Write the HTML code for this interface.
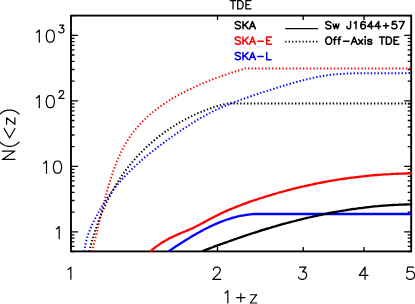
<!DOCTYPE html>
<html><head><meta charset="utf-8"><title>TDE</title>
<style>html,body{margin:0;padding:0;background:#fff;overflow:hidden}body{width:415px;height:304px;position:relative;font-family:"Liberation Sans",sans-serif}</style></head>
<body>
<svg width="415" height="304" viewBox="0 0 415 304" style="position:absolute;left:0;top:0;display:block">
<rect width="415" height="304" fill="#fff"/>
<defs><clipPath id="c"><rect x="71.0" y="15.6" width="341.2" height="236.8"/></clipPath></defs>
<rect x="71.0" y="15.6" width="340.2" height="235.8" fill="none" stroke="#000" stroke-width="1.85"/>
<path d="M71.0,251.5h3.5 M411.2,251.5h-3.5 M71.0,246.3h3.5 M411.2,246.3h-3.5 M71.0,241.9h3.5 M411.2,241.9h-3.5 M71.0,238.1h3.5 M411.2,238.1h-3.5 M71.0,234.8h3.5 M411.2,234.8h-3.5 M71.0,231.8h7.0 M411.2,231.8h-7.0 M71.0,212.1h3.5 M411.2,212.1h-3.5 M71.0,200.5h3.5 M411.2,200.5h-3.5 M71.0,192.4h3.5 M411.2,192.4h-3.5 M71.0,186.0h3.5 M411.2,186.0h-3.5 M71.0,180.8h3.5 M411.2,180.8h-3.5 M71.0,176.4h3.5 M411.2,176.4h-3.5 M71.0,172.6h3.5 M411.2,172.6h-3.5 M71.0,169.3h3.5 M411.2,169.3h-3.5 M71.0,166.3h7.0 M411.2,166.3h-7.0 M71.0,146.6h3.5 M411.2,146.6h-3.5 M71.0,135.0h3.5 M411.2,135.0h-3.5 M71.0,126.9h3.5 M411.2,126.9h-3.5 M71.0,120.5h3.5 M411.2,120.5h-3.5 M71.0,115.3h3.5 M411.2,115.3h-3.5 M71.0,110.9h3.5 M411.2,110.9h-3.5 M71.0,107.1h3.5 M411.2,107.1h-3.5 M71.0,103.8h3.5 M411.2,103.8h-3.5 M71.0,100.8h7.0 M411.2,100.8h-7.0 M71.0,81.1h3.5 M411.2,81.1h-3.5 M71.0,69.5h3.5 M411.2,69.5h-3.5 M71.0,61.4h3.5 M411.2,61.4h-3.5 M71.0,55.0h3.5 M411.2,55.0h-3.5 M71.0,49.8h3.5 M411.2,49.8h-3.5 M71.0,45.4h3.5 M411.2,45.4h-3.5 M71.0,41.6h3.5 M411.2,41.6h-3.5 M71.0,38.3h3.5 M411.2,38.3h-3.5 M71.0,35.3h7.0 M411.2,35.3h-7.0 M71.0,15.6h3.5 M411.2,15.6h-3.5 M217.5,251.4v-4.5 M217.5,15.6v4.5 M303.2,251.4v-4.5 M303.2,15.6v4.5 M364.0,251.4v-4.5 M364.0,15.6v4.5" stroke="#000" stroke-width="1.35" fill="none"/>
<g clip-path="url(#c)" fill="none" stroke-linejoin="round">
<path d="M92.0,251.3 C92.1,250.8 92.5,249.4 92.8,248.4 C93.0,247.5 93.3,246.5 93.5,245.5 C93.7,244.6 94.0,243.6 94.2,242.6 C94.5,241.7 94.7,240.7 95.0,239.7 C95.2,238.8 95.4,237.8 95.7,236.8 C95.9,235.8 96.2,234.9 96.4,233.9 C96.6,232.9 96.9,231.9 97.1,231.0 C97.3,230.0 97.6,229.0 97.8,228.0 C98.0,227.0 98.3,226.0 98.5,225.1 C98.8,224.1 99.0,223.1 99.2,222.1 C99.5,221.1 99.7,220.1 99.9,219.1 C100.2,218.1 100.4,217.2 100.7,216.2 C100.9,215.2 101.1,214.2 101.4,213.2 C101.6,212.2 101.9,211.2 102.1,210.2 C102.4,209.2 102.6,208.2 102.9,207.2 C103.1,206.3 103.4,205.3 103.6,204.3 C103.9,203.3 104.1,202.3 104.4,201.3 C104.6,200.3 104.9,199.3 105.2,198.3 C105.4,197.3 105.7,196.3 106.0,195.4 C106.2,194.4 106.5,193.4 106.8,192.4 C107.0,191.4 107.3,190.4 107.6,189.4 C107.9,188.4 108.2,187.5 108.4,186.5 C108.7,185.5 109.0,184.5 109.3,183.5 C109.6,182.5 109.9,181.6 110.2,180.6 C110.5,179.6 110.8,178.6 111.1,177.7 C111.5,176.7 111.8,175.7 112.1,174.7 C112.4,173.8 112.7,172.8 113.1,171.8 C113.4,170.9 113.8,169.9 114.1,169.0 C114.4,168.0 114.8,167.0 115.2,166.1 C115.5,165.1 115.9,164.2 116.3,163.3 C116.6,162.3 117.0,161.4 117.4,160.4 C117.8,159.5 118.2,158.6 118.6,157.7 C119.0,156.7 119.4,155.8 119.8,154.9 C120.2,154.0 120.7,153.1 121.1,152.2 C121.5,151.3 122.0,150.4 122.4,149.5 C122.9,148.6 123.3,147.7 123.8,146.9 C124.3,146.0 124.8,145.1 125.3,144.2 C125.7,143.4 126.2,142.5 126.8,141.7 C127.3,140.8 127.8,140.0 128.3,139.1 C128.9,138.3 129.4,137.5 130.0,136.7 C130.5,135.9 131.1,135.0 131.7,134.2 C132.2,133.4 132.8,132.6 133.4,131.9 C134.0,131.1 134.6,130.3 135.3,129.5 C135.9,128.8 136.5,128.0 137.2,127.3 C137.8,126.5 138.5,125.8 139.1,125.0 C139.8,124.3 140.5,123.6 141.2,122.9 C141.9,122.1 142.5,121.4 143.3,120.7 C144.0,120.0 144.7,119.3 145.4,118.7 C146.1,118.0 146.9,117.3 147.6,116.6 C148.3,116.0 149.1,115.3 149.9,114.6 C150.6,114.0 151.4,113.3 152.2,112.7 C152.9,112.1 153.7,111.4 154.5,110.8 C155.3,110.2 156.1,109.6 156.9,109.0 C157.7,108.3 158.5,107.7 159.4,107.1 C160.2,106.6 161.0,106.0 161.8,105.4 C162.7,104.8 163.5,104.2 164.4,103.7 C165.2,103.1 166.0,102.5 166.9,102.0 C167.8,101.4 168.6,100.9 169.5,100.3 C170.4,99.8 171.2,99.3 172.1,98.7 C173.0,98.2 173.9,97.7 174.8,97.2 C175.6,96.7 176.5,96.1 177.4,95.6 C178.3,95.1 179.2,94.7 180.1,94.2 C181.0,93.7 181.9,93.2 182.8,92.7 C183.7,92.2 184.7,91.8 185.6,91.3 C186.5,90.8 187.4,90.4 188.3,89.9 C189.2,89.5 190.2,89.0 191.1,88.6 C192.0,88.1 192.9,87.7 193.9,87.3 C194.8,86.8 195.7,86.4 196.7,86.0 C197.6,85.6 198.5,85.1 199.5,84.7 C200.4,84.3 201.3,83.9 202.3,83.5 C203.2,83.1 204.1,82.7 205.1,82.3 C206.0,82.0 207.0,81.6 207.9,81.2 C208.9,80.8 209.8,80.4 210.7,80.1 C211.7,79.7 212.6,79.3 213.6,79.0 C214.5,78.6 215.5,78.3 216.4,77.9 C217.4,77.6 218.3,77.2 219.3,76.9 C220.2,76.5 221.2,76.2 222.1,75.9 C223.1,75.5 224.0,75.2 225.0,74.9 C225.9,74.5 226.9,74.2 227.8,73.9 C228.8,73.6 229.8,73.3 230.7,73.0 C231.7,72.7 232.6,72.3 233.6,72.0 C234.5,71.7 235.5,71.4 236.4,71.2 C237.4,70.9 238.3,70.6 239.3,70.3 C240.2,70.0 241.2,69.7 242.1,69.4 C243.1,69.2 244.5,68.7 245.0,68.6 L412.4,68.6" stroke="#f00" stroke-width="2.0" stroke-dasharray="1.35 2.08"/>
<path d="M89.3,251.3 C89.4,250.8 89.8,249.3 90.0,248.4 C90.3,247.4 90.5,246.4 90.8,245.4 C91.1,244.4 91.3,243.5 91.6,242.5 C91.9,241.5 92.2,240.5 92.4,239.6 C92.7,238.6 93.0,237.6 93.3,236.7 C93.6,235.7 93.9,234.7 94.2,233.8 C94.5,232.8 94.8,231.8 95.1,230.9 C95.4,229.9 95.7,229.0 96.1,228.0 C96.4,227.1 96.7,226.1 97.1,225.2 C97.4,224.2 97.7,223.3 98.1,222.3 C98.4,221.4 98.8,220.4 99.1,219.5 C99.5,218.6 99.9,217.6 100.2,216.7 C100.6,215.8 101.0,214.8 101.4,213.9 C101.7,213.0 102.1,212.1 102.5,211.1 C102.9,210.2 103.3,209.3 103.7,208.4 C104.1,207.5 104.5,206.6 105.0,205.6 C105.4,204.7 105.8,203.8 106.2,202.9 C106.7,202.0 107.1,201.1 107.5,200.2 C108.0,199.3 108.4,198.4 108.9,197.6 C109.3,196.7 109.8,195.8 110.3,194.9 C110.7,194.0 111.2,193.2 111.7,192.3 C112.2,191.4 112.6,190.5 113.1,189.7 C113.6,188.8 114.1,187.9 114.6,187.1 C115.1,186.2 115.6,185.4 116.2,184.5 C116.7,183.7 117.2,182.8 117.7,182.0 C118.3,181.2 118.8,180.3 119.3,179.5 C119.9,178.7 120.4,177.8 121.0,177.0 C121.5,176.2 122.1,175.4 122.7,174.6 C123.2,173.7 123.8,172.9 124.4,172.1 C125.0,171.3 125.6,170.5 126.2,169.7 C126.8,168.9 127.4,168.1 128.0,167.3 C128.6,166.6 129.2,165.8 129.9,165.0 C130.5,164.2 131.1,163.5 131.7,162.7 C132.4,161.9 133.0,161.2 133.7,160.4 C134.3,159.7 135.0,158.9 135.7,158.2 C136.3,157.4 137.0,156.7 137.7,155.9 C138.4,155.2 139.1,154.5 139.8,153.8 C140.5,153.0 141.2,152.3 141.9,151.6 C142.6,150.9 143.3,150.2 144.0,149.5 C144.7,148.8 145.5,148.1 146.2,147.4 C146.9,146.7 147.7,146.0 148.4,145.3 C149.2,144.7 149.9,144.0 150.7,143.3 C151.4,142.7 152.2,142.0 153.0,141.4 C153.7,140.7 154.5,140.1 155.3,139.4 C156.1,138.8 156.9,138.1 157.6,137.5 C158.4,136.9 159.2,136.3 160.0,135.6 C160.8,135.0 161.6,134.4 162.5,133.8 C163.3,133.2 164.1,132.6 164.9,132.0 C165.7,131.4 166.6,130.9 167.4,130.3 C168.2,129.7 169.1,129.1 169.9,128.6 C170.7,128.0 171.6,127.5 172.4,126.9 C173.3,126.4 174.2,125.8 175.0,125.3 C175.9,124.8 176.7,124.2 177.6,123.7 C178.5,123.2 179.3,122.7 180.2,122.2 C181.1,121.7 182.0,121.2 182.9,120.7 C183.7,120.2 184.6,119.7 185.5,119.3 C186.4,118.8 187.3,118.3 188.2,117.9 C189.1,117.4 190.0,116.9 190.9,116.5 C191.8,116.1 192.7,115.6 193.6,115.2 C194.5,114.8 195.4,114.3 196.4,113.9 C197.3,113.5 198.2,113.1 199.1,112.7 C200.0,112.3 201.0,111.9 201.9,111.6 C202.8,111.2 203.8,110.8 204.7,110.5 C205.6,110.1 206.6,109.7 207.5,109.4 C208.4,109.0 209.4,108.7 210.3,108.4 C211.3,108.0 212.2,107.7 213.2,107.4 C214.1,107.1 215.1,106.8 216.0,106.5 C217.0,106.2 217.9,105.9 218.9,105.6 C219.8,105.4 220.8,105.1 221.7,104.8 C222.7,104.6 223.7,104.3 224.6,104.1 C225.6,103.9 227.0,103.5 227.5,103.4 L412.4,103.4" stroke="#000" stroke-width="2.0" stroke-dasharray="1.35 2.08"/>
<path d="M84.5,251.3 C84.6,250.8 84.7,249.3 84.8,248.4 C84.9,247.4 85.1,246.4 85.3,245.4 C85.4,244.5 85.6,243.5 85.9,242.5 C86.1,241.6 86.3,240.6 86.6,239.6 C86.9,238.7 87.1,237.7 87.4,236.8 C87.7,235.8 88.0,234.9 88.4,233.9 C88.7,233.0 89.1,232.0 89.4,231.1 C89.8,230.1 90.2,229.2 90.6,228.3 C90.9,227.3 91.4,226.4 91.8,225.5 C92.2,224.6 92.6,223.6 93.0,222.7 C93.5,221.8 93.9,220.9 94.4,220.0 C94.8,219.1 95.3,218.2 95.8,217.3 C96.2,216.4 96.7,215.5 97.2,214.6 C97.7,213.7 98.2,212.9 98.7,212.0 C99.2,211.1 99.7,210.2 100.2,209.4 C100.7,208.5 101.2,207.6 101.8,206.8 C102.3,205.9 102.8,205.1 103.4,204.2 C103.9,203.4 104.4,202.5 105.0,201.7 C105.5,200.9 106.1,200.0 106.6,199.2 C107.2,198.4 107.7,197.6 108.3,196.7 C108.9,195.9 109.4,195.1 110.0,194.3 C110.6,193.5 111.2,192.7 111.8,191.9 C112.4,191.1 113.0,190.3 113.6,189.5 C114.2,188.8 114.8,188.0 115.4,187.2 C116.0,186.4 116.6,185.7 117.3,184.9 C117.9,184.1 118.5,183.4 119.2,182.6 C119.8,181.8 120.5,181.1 121.2,180.3 C121.8,179.6 122.5,178.9 123.2,178.1 C123.8,177.4 124.5,176.7 125.2,175.9 C125.9,175.2 126.6,174.5 127.3,173.7 C128.0,173.0 128.7,172.3 129.4,171.6 C130.1,170.9 130.8,170.2 131.6,169.5 C132.3,168.8 133.0,168.1 133.8,167.4 C134.5,166.7 135.2,166.0 136.0,165.3 C136.7,164.6 137.5,164.0 138.2,163.3 C139.0,162.6 139.8,161.9 140.5,161.3 C141.3,160.6 142.0,159.9 142.8,159.3 C143.6,158.6 144.4,157.9 145.1,157.3 C145.9,156.6 146.7,156.0 147.5,155.3 C148.3,154.7 149.0,154.1 149.8,153.4 C150.6,152.8 151.4,152.1 152.2,151.5 C153.0,150.9 153.8,150.3 154.6,149.6 C155.4,149.0 156.2,148.4 157.0,147.8 C157.7,147.2 158.5,146.5 159.3,145.9 C160.1,145.3 160.9,144.7 161.8,144.1 C162.6,143.5 163.4,142.9 164.2,142.3 C165.0,141.7 165.8,141.1 166.6,140.5 C167.4,139.9 168.2,139.3 169.0,138.8 C169.8,138.2 170.7,137.6 171.5,137.0 C172.3,136.4 173.1,135.9 173.9,135.3 C174.8,134.7 175.6,134.1 176.4,133.6 C177.2,133.0 178.1,132.4 178.9,131.9 C179.7,131.3 180.6,130.8 181.4,130.2 C182.2,129.6 183.1,129.1 183.9,128.5 C184.8,128.0 185.6,127.4 186.5,126.9 C187.3,126.3 188.1,125.8 189.0,125.3 C189.8,124.7 190.7,124.2 191.6,123.6 C192.4,123.1 193.3,122.6 194.1,122.0 C195.0,121.5 195.9,121.0 196.7,120.5 C197.6,119.9 198.4,119.4 199.3,118.9 C200.2,118.4 201.1,117.9 201.9,117.4 C202.8,116.9 203.7,116.4 204.6,115.9 C205.4,115.4 206.3,114.9 207.2,114.4 C208.1,113.9 209.0,113.5 209.9,113.0 C210.7,112.5 211.6,112.1 212.5,111.6 C213.4,111.2 214.3,110.7 215.2,110.3 C216.1,109.8 217.0,109.4 217.9,109.0 C218.8,108.6 219.7,108.1 220.6,107.7 C221.5,107.3 222.4,106.9 223.3,106.5 C224.2,106.2 225.1,105.8 226.1,105.4 C227.0,105.0 227.9,104.7 228.8,104.3 C229.7,103.9 230.6,103.6 231.5,103.2 C232.5,102.9 233.4,102.5 234.3,102.2 C235.2,101.8 236.2,101.5 237.1,101.1 C238.0,100.8 238.9,100.5 239.9,100.1 C240.8,99.8 241.7,99.5 242.7,99.1 C243.6,98.8 244.5,98.5 245.5,98.1 C246.4,97.8 247.3,97.5 248.3,97.2 C249.2,96.8 250.2,96.5 251.1,96.2 C252.1,95.9 253.0,95.5 253.9,95.2 C254.9,94.9 255.8,94.6 256.8,94.3 C257.7,93.9 258.7,93.6 259.6,93.3 C260.6,93.0 261.5,92.7 262.5,92.4 C263.4,92.1 264.4,91.7 265.4,91.4 C266.3,91.1 267.3,90.8 268.2,90.5 C269.2,90.2 270.2,89.9 271.1,89.6 C272.1,89.3 273.1,89.0 274.0,88.7 C275.0,88.4 275.9,88.1 276.9,87.8 C277.9,87.5 278.9,87.2 279.8,86.9 C280.8,86.6 281.8,86.3 282.7,86.0 C283.7,85.7 284.7,85.4 285.7,85.1 C286.6,84.8 287.6,84.5 288.6,84.2 C289.6,83.9 290.5,83.7 291.5,83.4 C292.5,83.1 293.5,82.8 294.5,82.5 C295.4,82.3 296.4,82.0 297.4,81.7 C298.4,81.5 299.4,81.2 300.4,80.9 C301.3,80.7 302.3,80.4 303.3,80.2 C304.3,79.9 305.3,79.7 306.3,79.4 C307.3,79.2 308.2,79.0 309.2,78.7 C310.2,78.5 311.2,78.3 312.2,78.1 C313.2,77.8 314.2,77.6 315.2,77.4 C316.2,77.2 317.2,77.0 318.2,76.8 C319.1,76.7 320.1,76.5 321.1,76.3 C322.1,76.1 323.1,76.0 324.1,75.8 C325.1,75.6 326.1,75.5 327.1,75.3 C328.1,75.2 329.1,75.1 330.1,74.9 C331.1,74.8 332.1,74.7 333.1,74.6 C334.1,74.5 335.1,74.4 336.1,74.3 C337.1,74.2 338.1,74.1 339.1,74.0 C340.1,74.0 341.1,73.9 342.1,73.8 C343.1,73.8 344.1,73.7 345.1,73.6 C346.1,73.6 347.1,73.5 348.1,73.5 C349.1,73.5 350.1,73.4 351.1,73.4 C352.1,73.3 353.1,73.3 354.1,73.3 C355.1,73.3 356.1,73.3 357.1,73.2 C358.1,73.2 359.1,73.2 360.1,73.2 C361.1,73.2 362.2,73.2 363.2,73.2 C364.2,73.2 365.2,73.2 366.2,73.2 C367.2,73.2 368.2,73.2 369.2,73.2 C370.2,73.2 371.2,73.2 372.2,73.2 C373.2,73.2 374.2,73.2 375.2,73.2 C376.2,73.2 377.2,73.2 378.2,73.3 C379.2,73.3 380.2,73.3 381.2,73.3 C382.2,73.3 383.2,73.3 384.2,73.3 C385.2,73.3 386.2,73.3 387.2,73.3 C388.2,73.3 389.2,73.3 390.2,73.3 C391.2,73.3 392.2,73.3 393.2,73.3 C394.2,73.3 395.2,73.3 396.2,73.3 C397.2,73.3 398.2,73.3 399.2,73.3 C400.2,73.3 401.2,73.3 402.2,73.2 C403.2,73.2 404.2,73.2 405.2,73.2 C406.2,73.1 407.2,73.1 408.2,73.0 C409.2,73.0 410.7,72.9 411.2,72.9 L412.4,72.9" stroke="#00f" stroke-width="2.0" stroke-dasharray="1.35 2.08"/>
<path d="M150.3,251.3 C150.7,251.0 151.9,250.0 152.7,249.3 C153.5,248.7 154.3,248.0 155.1,247.4 C155.9,246.8 156.7,246.2 157.6,245.6 C158.4,245.0 159.2,244.4 160.1,243.9 C160.9,243.3 161.8,242.8 162.6,242.2 C163.5,241.7 164.3,241.2 165.2,240.7 C166.0,240.2 166.9,239.7 167.8,239.2 C168.6,238.8 169.5,238.3 170.4,237.9 C171.3,237.4 172.2,237.0 173.0,236.6 C173.9,236.2 174.8,235.8 175.7,235.4 C176.6,235.0 177.5,234.6 178.4,234.2 C179.3,233.9 180.1,233.5 181.0,233.1 C181.9,232.7 182.8,232.4 183.7,232.0 C184.6,231.6 185.5,231.3 186.4,230.9 C187.3,230.5 188.2,230.1 189.1,229.7 C190.0,229.3 190.9,228.9 191.8,228.5 C192.7,228.1 193.6,227.6 194.5,227.2 C195.4,226.7 196.3,226.3 197.2,225.8 C198.1,225.4 199.1,224.9 200.0,224.4 C200.9,224.0 201.8,223.5 202.7,223.0 C203.6,222.5 204.5,222.0 205.4,221.6 C206.3,221.1 207.2,220.6 208.1,220.1 C209.0,219.6 209.9,219.1 210.8,218.6 C211.7,218.2 212.6,217.7 213.5,217.2 C214.4,216.7 215.4,216.3 216.3,215.8 C217.2,215.3 218.1,214.9 219.0,214.4 C219.9,214.0 220.8,213.5 221.7,213.1 C222.6,212.7 223.6,212.3 224.5,211.8 C225.4,211.4 226.3,211.0 227.2,210.6 C228.1,210.2 229.1,209.8 230.0,209.4 C230.9,209.0 231.8,208.6 232.7,208.3 C233.6,207.9 234.6,207.5 235.5,207.1 C236.4,206.8 237.3,206.4 238.3,206.0 C239.2,205.7 240.1,205.3 241.0,205.0 C242.0,204.6 242.9,204.3 243.8,203.9 C244.8,203.6 245.7,203.3 246.6,202.9 C247.5,202.6 248.5,202.3 249.4,201.9 C250.3,201.6 251.3,201.3 252.2,201.0 C253.2,200.7 254.1,200.3 255.0,200.0 C256.0,199.7 256.9,199.4 257.9,199.1 C258.8,198.8 259.7,198.5 260.7,198.2 C261.6,197.9 262.6,197.6 263.5,197.3 C264.5,197.0 265.4,196.7 266.4,196.4 C267.3,196.1 268.3,195.8 269.2,195.5 C270.2,195.2 271.1,194.9 272.1,194.6 C273.0,194.3 274.0,194.1 275.0,193.8 C275.9,193.5 276.9,193.2 277.8,193.0 C278.8,192.7 279.8,192.4 280.7,192.2 C281.7,191.9 282.6,191.6 283.6,191.4 C284.6,191.1 285.5,190.8 286.5,190.6 C287.5,190.3 288.4,190.1 289.4,189.8 C290.4,189.6 291.3,189.3 292.3,189.1 C293.3,188.8 294.2,188.6 295.2,188.3 C296.2,188.1 297.2,187.9 298.1,187.6 C299.1,187.4 300.1,187.2 301.1,186.9 C302.0,186.7 303.0,186.5 304.0,186.3 C305.0,186.0 305.9,185.8 306.9,185.6 C307.9,185.4 308.9,185.2 309.9,185.0 C310.8,184.7 311.8,184.5 312.8,184.3 C313.8,184.1 314.8,183.9 315.8,183.7 C316.7,183.5 317.7,183.3 318.7,183.1 C319.7,182.9 320.7,182.7 321.7,182.5 C322.6,182.4 323.6,182.2 324.6,182.0 C325.6,181.8 326.6,181.6 327.6,181.4 C328.6,181.3 329.6,181.1 330.5,180.9 C331.5,180.7 332.5,180.6 333.5,180.4 C334.5,180.2 335.5,180.1 336.5,179.9 C337.5,179.8 338.5,179.6 339.5,179.4 C340.5,179.3 341.4,179.1 342.4,179.0 C343.4,178.8 344.4,178.7 345.4,178.5 C346.4,178.4 347.4,178.3 348.4,178.1 C349.4,178.0 350.4,177.9 351.4,177.7 C352.4,177.6 353.4,177.5 354.4,177.3 C355.4,177.2 356.4,177.1 357.4,177.0 C358.4,176.8 359.4,176.7 360.4,176.6 C361.3,176.5 362.3,176.4 363.3,176.3 C364.3,176.2 365.3,176.1 366.3,176.0 C367.3,175.9 368.3,175.8 369.3,175.7 C370.3,175.6 371.3,175.5 372.3,175.4 C373.3,175.3 374.3,175.2 375.3,175.1 C376.3,175.0 377.3,175.0 378.3,174.9 C379.3,174.8 380.3,174.7 381.3,174.7 C382.3,174.6 383.3,174.5 384.3,174.4 C385.3,174.4 386.3,174.3 387.3,174.3 C388.3,174.2 389.3,174.1 390.3,174.1 C391.3,174.0 392.3,174.0 393.3,173.9 C394.3,173.9 395.3,173.8 396.3,173.8 C397.3,173.8 398.3,173.7 399.3,173.7 C400.3,173.6 401.2,173.6 402.2,173.6 C403.2,173.6 404.2,173.5 405.2,173.5 C406.2,173.5 407.2,173.5 408.2,173.4 C409.2,173.4 410.7,173.4 411.2,173.4 L412.4,173.4" stroke="#f00" stroke-width="2.3"/>
<path d="M168.5,251.3 C168.9,251.0 170.2,250.2 171.0,249.7 C171.9,249.1 172.7,248.5 173.5,248.0 C174.4,247.4 175.2,246.9 176.1,246.3 C176.9,245.8 177.8,245.2 178.6,244.7 C179.5,244.1 180.3,243.6 181.2,243.1 C182.1,242.5 182.9,242.0 183.8,241.4 C184.6,240.9 185.5,240.3 186.4,239.8 C187.2,239.3 188.1,238.7 189.0,238.2 C189.9,237.7 190.7,237.1 191.6,236.6 C192.5,236.1 193.4,235.6 194.2,235.1 C195.1,234.5 196.0,234.0 196.9,233.5 C197.8,233.0 198.7,232.5 199.6,232.0 C200.5,231.5 201.4,231.0 202.3,230.6 C203.2,230.1 204.1,229.6 205.0,229.1 C205.9,228.7 206.8,228.2 207.7,227.7 C208.6,227.3 209.5,226.8 210.4,226.4 C211.3,226.0 212.3,225.5 213.2,225.1 C214.1,224.7 215.0,224.3 216.0,223.9 C216.9,223.5 217.8,223.1 218.7,222.7 C219.7,222.3 220.6,221.9 221.6,221.6 C222.5,221.2 223.5,220.8 224.4,220.5 C225.4,220.1 226.3,219.8 227.3,219.5 C228.2,219.2 229.2,218.9 230.1,218.6 C231.1,218.3 232.1,218.0 233.0,217.7 C234.0,217.4 235.0,217.2 236.0,216.9 C236.9,216.7 237.9,216.4 238.9,216.2 C239.9,216.0 240.9,215.8 241.9,215.6 C242.9,215.4 243.9,215.2 244.9,215.1 C245.9,214.9 246.9,214.7 247.9,214.6 C248.9,214.5 249.9,214.4 250.9,214.3 C252.0,214.2 253.5,214.0 254.0,214.0 L412.4,214.0" stroke="#00f" stroke-width="2.3"/>
<path d="M202.0,251.3 C202.5,251.1 203.9,250.6 204.8,250.2 C205.8,249.9 206.7,249.5 207.7,249.1 C208.6,248.8 209.5,248.4 210.5,248.1 C211.4,247.7 212.4,247.3 213.3,247.0 C214.3,246.6 215.2,246.3 216.2,245.9 C217.1,245.6 218.1,245.2 219.0,244.9 C220.0,244.5 220.9,244.2 221.9,243.8 C222.8,243.5 223.8,243.2 224.7,242.8 C225.7,242.5 226.6,242.1 227.6,241.8 C228.5,241.4 229.5,241.1 230.4,240.8 C231.4,240.4 232.3,240.1 233.3,239.8 C234.2,239.4 235.2,239.1 236.2,238.8 C237.1,238.4 238.1,238.1 239.0,237.8 C240.0,237.4 240.9,237.1 241.9,236.8 C242.9,236.5 243.8,236.1 244.8,235.8 C245.7,235.5 246.7,235.2 247.7,234.9 C248.6,234.6 249.6,234.2 250.6,233.9 C251.5,233.6 252.5,233.3 253.4,233.0 C254.4,232.7 255.4,232.4 256.3,232.1 C257.3,231.7 258.3,231.4 259.2,231.1 C260.2,230.8 261.2,230.5 262.1,230.2 C263.1,229.9 264.1,229.6 265.0,229.3 C266.0,229.0 267.0,228.7 268.0,228.5 C268.9,228.2 269.9,227.9 270.9,227.6 C271.8,227.3 272.8,227.0 273.8,226.7 C274.8,226.4 275.7,226.2 276.7,225.9 C277.7,225.6 278.7,225.3 279.6,225.0 C280.6,224.8 281.6,224.5 282.6,224.2 C283.5,224.0 284.5,223.7 285.5,223.4 C286.5,223.2 287.4,222.9 288.4,222.6 C289.4,222.4 290.4,222.1 291.4,221.8 C292.3,221.6 293.3,221.3 294.3,221.1 C295.3,220.8 296.3,220.6 297.2,220.3 C298.2,220.1 299.2,219.8 300.2,219.6 C301.2,219.3 302.2,219.1 303.1,218.9 C304.1,218.6 305.1,218.4 306.1,218.2 C307.1,217.9 308.1,217.7 309.0,217.5 C310.0,217.2 311.0,217.0 312.0,216.8 C313.0,216.6 314.0,216.3 315.0,216.1 C316.0,215.9 316.9,215.7 317.9,215.5 C318.9,215.3 319.9,215.0 320.9,214.8 C321.9,214.6 322.9,214.4 323.9,214.2 C324.9,214.0 325.9,213.8 326.8,213.6 C327.8,213.4 328.8,213.2 329.8,213.0 C330.8,212.9 331.8,212.7 332.8,212.5 C333.8,212.3 334.8,212.1 335.8,211.9 C336.8,211.7 337.8,211.6 338.8,211.4 C339.8,211.2 340.8,211.1 341.8,210.9 C342.8,210.7 343.8,210.5 344.8,210.4 C345.8,210.2 346.8,210.1 347.7,209.9 C348.7,209.7 349.7,209.6 350.7,209.4 C351.7,209.3 352.7,209.1 353.7,209.0 C354.7,208.9 355.7,208.7 356.7,208.6 C357.7,208.4 358.8,208.3 359.8,208.2 C360.8,208.0 361.8,207.9 362.8,207.8 C363.8,207.7 364.8,207.5 365.8,207.4 C366.8,207.3 367.8,207.2 368.8,207.1 C369.8,207.0 370.8,206.9 371.8,206.7 C372.8,206.6 373.8,206.5 374.8,206.4 C375.8,206.3 376.8,206.2 377.8,206.2 C378.8,206.1 379.8,206.0 380.9,205.9 C381.9,205.8 382.9,205.7 383.9,205.6 C384.9,205.6 385.9,205.5 386.9,205.4 C387.9,205.3 388.9,205.3 389.9,205.2 C390.9,205.1 392.0,205.1 393.0,205.0 C394.0,205.0 395.0,204.9 396.0,204.9 C397.0,204.8 398.0,204.8 399.0,204.7 C400.0,204.7 401.1,204.7 402.1,204.6 C403.1,204.6 404.1,204.5 405.1,204.5 C406.1,204.5 407.1,204.5 408.2,204.4 C409.2,204.4 410.7,204.4 411.2,204.4 L412.4,204.4" stroke="#000" stroke-width="2.3"/>
</g>
<path d="M285.2,28.65H318" stroke="#000" stroke-width="1.4"/>
<path d="M285.2,41.65H318" stroke="#000" stroke-width="1.8" stroke-dasharray="1.3 2.15"/>
<path d="M36.40,32.34 L37.56,31.76 L39.30,30.02 L39.30,42.20 M49.74,30.02 L48.00,30.60 L46.84,32.34 L46.26,35.24 L46.26,36.98 L46.84,39.88 L48.00,41.62 L49.74,42.20 L50.90,42.20 L52.64,41.62 L53.80,39.88 L54.38,36.98 L54.38,35.24 L53.80,32.34 L52.64,30.60 L50.90,30.02 L49.74,30.02" fill="none" stroke="#000" stroke-width="1.20" stroke-linecap="round" stroke-linejoin="round"/>
<path d="M59.55,25.13 L63.62,25.13 L61.40,28.09 L62.51,28.09 L63.25,28.46 L63.62,28.83 L63.99,29.94 L63.99,30.68 L63.62,31.79 L62.88,32.53 L61.77,32.90 L60.66,32.90 L59.55,32.53 L59.18,32.16 L58.81,31.42" fill="none" stroke="#000" stroke-width="1.20" stroke-linecap="round" stroke-linejoin="round"/>
<path d="M36.40,97.84 L37.56,97.26 L39.30,95.52 L39.30,107.70 M49.74,95.52 L48.00,96.10 L46.84,97.84 L46.26,100.74 L46.26,102.48 L46.84,105.38 L48.00,107.12 L49.74,107.70 L50.90,107.70 L52.64,107.12 L53.80,105.38 L54.38,102.48 L54.38,100.74 L53.80,97.84 L52.64,96.10 L50.90,95.52 L49.74,95.52" fill="none" stroke="#000" stroke-width="1.20" stroke-linecap="round" stroke-linejoin="round"/>
<path d="M59.18,92.48 L59.18,92.11 L59.55,91.37 L59.92,91.00 L60.66,90.63 L62.14,90.63 L62.88,91.00 L63.25,91.37 L63.62,92.11 L63.62,92.85 L63.25,93.59 L62.51,94.70 L58.81,98.40 L63.99,98.40" fill="none" stroke="#000" stroke-width="1.20" stroke-linecap="round" stroke-linejoin="round"/>
<path d="M43.60,163.34 L44.76,162.76 L46.50,161.02 L46.50,173.20 M56.94,161.02 L55.20,161.60 L54.04,163.34 L53.46,166.24 L53.46,167.98 L54.04,170.88 L55.20,172.62 L56.94,173.20 L58.10,173.20 L59.84,172.62 L61.00,170.88 L61.58,167.98 L61.58,166.24 L61.00,163.34 L59.84,161.60 L58.10,161.02 L56.94,161.02" fill="none" stroke="#000" stroke-width="1.20" stroke-linecap="round" stroke-linejoin="round"/>
<path d="M56.30,228.84 L57.46,228.26 L59.20,226.52 L59.20,238.70" fill="none" stroke="#000" stroke-width="1.20" stroke-linecap="round" stroke-linejoin="round"/>
<path d="M67.98,269.49 L69.14,268.91 L70.88,267.17 L70.88,279.35" fill="none" stroke="#000" stroke-width="1.20" stroke-linecap="round" stroke-linejoin="round"/>
<path d="M213.34,270.07 L213.34,269.49 L213.92,268.33 L214.50,267.75 L215.66,267.17 L217.98,267.17 L219.14,267.75 L219.72,268.33 L220.30,269.49 L220.30,270.65 L219.72,271.81 L218.56,273.55 L212.76,279.35 L220.88,279.35" fill="none" stroke="#000" stroke-width="1.20" stroke-linecap="round" stroke-linejoin="round"/>
<path d="M299.62,267.17 L306.00,267.17 L302.52,271.81 L304.26,271.81 L305.42,272.39 L306.00,272.97 L306.58,274.71 L306.58,275.87 L306.00,277.61 L304.84,278.77 L303.10,279.35 L301.36,279.35 L299.62,278.77 L299.04,278.19 L298.46,277.03" fill="none" stroke="#000" stroke-width="1.20" stroke-linecap="round" stroke-linejoin="round"/>
<path d="M365.07,267.17 L359.27,275.29 L367.97,275.29 M365.07,267.17 L365.07,279.35" fill="none" stroke="#000" stroke-width="1.20" stroke-linecap="round" stroke-linejoin="round"/>
<path d="M413.40,267.17 L407.60,267.17 L407.02,272.39 L407.60,271.81 L409.34,271.23 L411.08,271.23 L412.82,271.81 L413.98,272.97 L414.56,274.71 L414.56,275.87 L413.98,277.61 L412.82,278.77 L411.08,279.35 L409.34,279.35 L407.60,278.77 L407.02,278.19 L406.44,277.03" fill="none" stroke="#000" stroke-width="1.20" stroke-linecap="round" stroke-linejoin="round"/>
<path d="M224.90,292.97 L226.08,292.38 L227.85,290.61 L227.85,303.00 M240.83,293.56 L240.83,301.82 M236.70,297.69 L244.96,297.69 M256.76,294.74 L250.27,303.00 M250.27,294.74 L256.76,294.74 M250.27,303.00 L256.76,303.00" fill="none" stroke="#000" stroke-width="1.20" stroke-linecap="round" stroke-linejoin="round"/>
<path d="M2.41,159.42 L14.90,159.42 M2.41,159.42 L14.90,151.09 M2.41,151.09 L14.90,151.09 M0.03,142.17 L1.22,143.36 L3.00,144.55 L5.38,145.74 L8.36,146.33 L10.73,146.33 L13.71,145.74 L16.09,144.55 L17.88,143.36 L19.07,142.17 M4.19,128.48 L9.55,138.00 L14.90,128.48 M6.57,117.77 L14.90,124.32 M6.57,124.32 L6.57,117.77 M14.90,124.32 L14.90,117.77 M0.03,114.20 L1.22,113.01 L3.00,111.82 L5.38,110.63 L8.36,110.04 L10.73,110.04 L13.71,110.63 L16.09,111.82 L17.88,113.01 L19.07,114.20" fill="none" stroke="#000" stroke-width="1.20" stroke-linecap="round" stroke-linejoin="round"/>
<path d="M233.02,0.71 L233.02,8.90 M230.29,0.71 L235.75,0.71 M237.70,0.71 L237.70,8.90 M237.70,0.71 L240.43,0.71 L241.60,1.10 L242.38,1.88 L242.77,2.66 L243.16,3.83 L243.16,5.78 L242.77,6.95 L242.38,7.73 L241.60,8.51 L240.43,8.90 L237.70,8.90 M245.89,0.71 L245.89,8.90 M245.89,0.71 L250.96,0.71 M245.89,4.61 L249.01,4.61 M245.89,8.90 L250.96,8.90" fill="none" stroke="#000" stroke-width="1.30" stroke-linecap="round" stroke-linejoin="round"/>
<path d="M240.41,22.64 L239.68,21.95 L238.59,21.61 L237.12,21.61 L236.03,21.95 L235.30,22.64 L235.30,23.33 L235.67,24.02 L236.03,24.37 L236.76,24.71 L238.95,25.40 L239.68,25.75 L240.05,26.09 L240.41,26.78 L240.41,27.82 L239.68,28.51 L238.59,28.85 L237.12,28.85 L236.03,28.51 L235.30,27.82 M242.97,21.61 L242.97,28.85 M248.08,21.61 L242.97,26.44 M244.79,24.71 L248.08,28.85 M252.46,21.61 L249.54,28.85 M252.46,21.61 L255.38,28.85 M250.63,26.44 L254.28,26.44" fill="none" stroke="#000" stroke-width="1.50" stroke-linecap="round" stroke-linejoin="round"/>
<path d="M240.41,38.04 L239.68,37.35 L238.59,37.01 L237.12,37.01 L236.03,37.35 L235.30,38.04 L235.30,38.73 L235.67,39.42 L236.03,39.77 L236.76,40.11 L238.95,40.80 L239.68,41.15 L240.05,41.49 L240.41,42.18 L240.41,43.22 L239.68,43.91 L238.59,44.25 L237.12,44.25 L236.03,43.91 L235.30,43.22 M242.97,37.01 L242.97,44.25 M248.08,37.01 L242.97,41.84 M244.79,40.11 L248.08,44.25 M252.46,37.01 L249.54,44.25 M252.46,37.01 L255.38,44.25 M250.63,41.84 L254.28,41.84 M257.75,41.15 L263.22,41.15 M266.69,37.01 L266.69,44.25 M266.69,37.01 L271.44,37.01 M266.69,40.45 L269.61,40.45 M266.69,44.25 L271.44,44.25" fill="none" stroke="#f00" stroke-width="1.50" stroke-linecap="round" stroke-linejoin="round"/>
<path d="M240.41,53.44 L239.68,52.75 L238.59,52.41 L237.12,52.41 L236.03,52.75 L235.30,53.44 L235.30,54.13 L235.67,54.82 L236.03,55.16 L236.76,55.51 L238.95,56.20 L239.68,56.55 L240.05,56.89 L240.41,57.58 L240.41,58.62 L239.68,59.30 L238.59,59.65 L237.12,59.65 L236.03,59.30 L235.30,58.62 M242.97,52.41 L242.97,59.65 M248.08,52.41 L242.97,57.23 M244.79,55.51 L248.08,59.65 M252.46,52.41 L249.54,59.65 M252.46,52.41 L255.38,59.65 M250.63,57.23 L254.28,57.23 M257.75,56.55 L263.22,56.55 M266.69,52.41 L266.69,59.65 M266.69,59.65 L271.07,59.65" fill="none" stroke="#00f" stroke-width="1.50" stroke-linecap="round" stroke-linejoin="round"/>
<path d="M330.88,22.64 L330.15,21.95 L329.05,21.61 L327.59,21.61 L326.50,21.95 L325.77,22.64 L325.77,23.33 L326.13,24.02 L326.50,24.37 L327.23,24.71 L329.42,25.40 L330.15,25.75 L330.51,26.09 L330.88,26.78 L330.88,27.82 L330.15,28.51 L329.05,28.85 L327.59,28.85 L326.50,28.51 L325.77,27.82 M333.06,24.02 L334.53,28.85 M335.99,24.02 L334.53,28.85 M335.99,24.02 L337.44,28.85 M338.91,24.02 L337.44,28.85 M350.59,21.61 L350.59,27.12 L350.22,28.16 L349.86,28.51 L349.12,28.85 L348.40,28.85 L347.67,28.51 L347.30,28.16 L346.94,27.12 L346.94,26.44 M354.24,22.99 L354.97,22.64 L356.06,21.61 L356.06,28.85 M365.19,22.64 L364.82,21.95 L363.73,21.61 L363.00,21.61 L361.90,21.95 L361.17,22.99 L360.81,24.71 L360.81,26.44 L361.17,27.82 L361.90,28.51 L363.00,28.85 L363.36,28.85 L364.46,28.51 L365.19,27.82 L365.55,26.78 L365.55,26.44 L365.19,25.40 L364.46,24.71 L363.36,24.37 L363.00,24.37 L361.90,24.71 L361.17,25.40 L360.81,26.44 M371.39,21.61 L367.74,26.44 L373.22,26.44 M371.39,21.61 L371.39,28.85 M378.69,21.61 L375.04,26.44 L380.51,26.44 M378.69,21.61 L378.69,28.85 M385.99,23.33 L385.99,28.16 M383.44,25.75 L388.55,25.75 M396.21,21.61 L392.56,21.61 L392.19,24.71 L392.56,24.37 L393.66,24.02 L394.75,24.02 L395.85,24.37 L396.58,25.05 L396.94,26.09 L396.94,26.78 L396.58,27.82 L395.85,28.51 L394.75,28.85 L393.66,28.85 L392.56,28.51 L392.19,28.16 L391.83,27.47 M404.24,21.61 L400.59,28.85 M399.13,21.61 L404.24,21.61" fill="none" stroke="#000" stroke-width="1.50" stroke-linecap="round" stroke-linejoin="round"/>
<path d="M327.96,37.01 L327.23,37.35 L326.50,38.04 L326.13,38.73 L325.77,39.77 L325.77,41.49 L326.13,42.52 L326.50,43.22 L327.23,43.91 L327.96,44.25 L329.42,44.25 L330.15,43.91 L330.88,43.22 L331.24,42.52 L331.61,41.49 L331.61,39.77 L331.24,38.73 L330.88,38.04 L330.15,37.35 L329.42,37.01 L327.96,37.01 M336.35,37.01 L335.62,37.01 L334.89,37.35 L334.53,38.38 L334.53,44.25 M333.43,39.42 L335.99,39.42 M340.73,37.01 L340.00,37.01 L339.27,37.35 L338.91,38.38 L338.91,44.25 M337.81,39.42 L340.37,39.42 M343.47,41.15 L348.94,41.15 M354.24,37.01 L351.31,44.25 M354.24,37.01 L357.16,44.25 M352.41,41.84 L356.06,41.84 M358.62,39.42 L362.63,44.25 M362.63,39.42 L358.62,44.25 M364.82,37.01 L365.19,37.35 L365.55,37.01 L365.19,36.66 L364.82,37.01 M365.19,39.42 L365.19,44.25 M371.75,40.45 L371.39,39.77 L370.30,39.42 L369.20,39.42 L368.11,39.77 L367.74,40.45 L368.11,41.15 L368.84,41.49 L370.66,41.84 L371.39,42.18 L371.75,42.87 L371.75,43.22 L371.39,43.91 L370.30,44.25 L369.20,44.25 L368.11,43.91 L367.74,43.22 M381.98,37.01 L381.98,44.25 M379.42,37.01 L384.53,37.01 M386.36,37.01 L386.36,44.25 M386.36,37.01 L388.91,37.01 L390.00,37.35 L390.74,38.04 L391.10,38.73 L391.47,39.77 L391.47,41.49 L391.10,42.52 L390.74,43.22 L390.00,43.91 L388.91,44.25 L386.36,44.25 M394.02,37.01 L394.02,44.25 M394.02,37.01 L398.76,37.01 M394.02,40.45 L396.94,40.45 M394.02,44.25 L398.76,44.25" fill="none" stroke="#000" stroke-width="1.50" stroke-linecap="round" stroke-linejoin="round"/>
</svg>
</body></html>
